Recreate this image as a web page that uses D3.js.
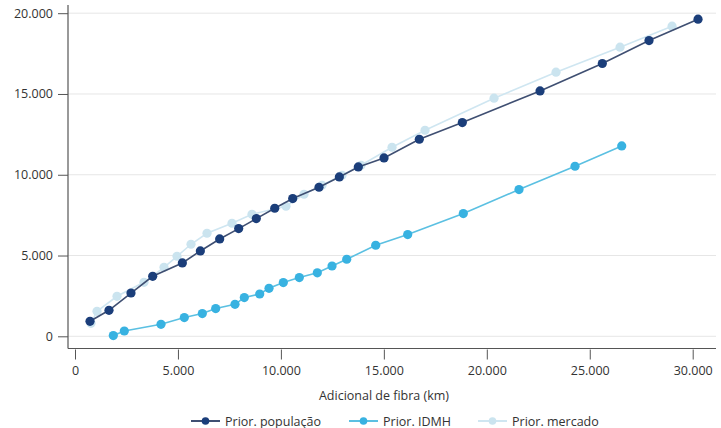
<!DOCTYPE html>
<html><head><meta charset="utf-8">
<script src="https://cdn.jsdelivr.net/npm/d3@7"></script>
<style>
html,body{margin:0;padding:0;background:#fff;}
svg text{font-family:"Open Sans",sans-serif;}
</style></head>
<body><svg id="chart" width="721" height="428"></svg>
<script>
const popX = [729,1651,2720,3773,5213,6088,7027,7950,8806,9700,10574,11851,12838,13760,15008,16723,18811,22585,25611,27879,30259];
const popY = [929,1610,2680,3715,4540,5283,6025,6668,7287,7926,8527,9226,9864,10484,11040,12198,13232,15190,16886,18306,19629];
const idmhX = [1860,2395,4177,5309,6183,6834,7771,8223,8971,9423,10117,10894,11769,12483,13197,14605,16159,18860,21565,24285,26553];
const idmhY = [43,328,743,1158,1406,1715,1981,2396,2619,2972,3325,3635,3932,4353,4768,5635,6297,7598,9084,10526,11783];
const mercX = [777,1069,2040,3351,4323,4954,5634,6411,7625,8597,10248,11122,11996,12968,13891,15397,17000,20351,23362,26471,28997];
const mercY = [805,1548,2477,3344,4272,4954,5697,6378,6997,7554,8050,8793,9350,9969,10588,11703,12756,14737,16347,17895,19195];
const xTicks = [0,5000,10000,15000,20000,25000,30000];
const yTicks = [0,5000,10000,15000,20000];
const seriesNames = ["Prior. população","Prior. IDMH","Prior. mercado"];
const xTitle = "Adicional de fibra (km)";

const fmt = v => d3.format(",")(v).replace(/,/g,".");
const svg = d3.select("#chart");
const x = d3.scaleLinear().domain([0,30000]).range([75,692.7]);
const y = d3.scaleLinear().domain([0,20000]).range([336.3,13.2]);
const left = 68, right = 716, bottom = 348.5;

// gridlines
svg.append("g").selectAll("line").data(yTicks).join("line")
  .attr("x1",left).attr("x2",right).attr("y1",d=>y(d)).attr("y2",d=>y(d))
  .attr("stroke","#e6e6e6").attr("stroke-width",1);

// y axis
const ya = svg.append("g").attr("transform",`translate(${left},0)`)
  .call(d3.axisLeft(y).tickValues(yTicks).tickFormat(fmt).tickSize(10).tickPadding(5));
ya.select(".domain").remove();
ya.selectAll(".tick line").attr("stroke","#555");
ya.selectAll(".tick text").attr("fill","#333").style("font-size","12.5px");
svg.append("line").attr("x1",left).attr("x2",left).attr("y1",5).attr("y2",bottom)
  .attr("stroke","#555").attr("stroke-width",1.2);

// x axis
const xa = svg.append("g").attr("transform",`translate(0,${bottom+1})`)
  .call(d3.axisBottom(x).tickValues(xTicks).tickFormat(fmt).tickSize(10).tickPadding(7));
xa.select(".domain").remove();
xa.selectAll(".tick line").attr("stroke","#555");
xa.selectAll(".tick text").attr("fill","#333").style("font-size","12.5px");
svg.append("line").attr("x1",left).attr("x2",right).attr("y1",bottom).attr("y2",bottom)
  .attr("stroke","#555").attr("stroke-width",1.2);

svg.append("text").attr("x",384).attr("y",400).attr("text-anchor","middle")
  .attr("fill","#333").style("font-size","12.5px").text(xTitle);

const series = [
  {name:seriesNames[2], xs:mercX, ys:mercY, line:"#cfe6f1", dot:"#cbe4ef"},
  {name:seriesNames[1], xs:idmhX, ys:idmhY, line:"#5bc0e2", dot:"#38b2e1"},
  {name:seriesNames[0], xs:popX, ys:popY, line:"#3f4f72", dot:"#1b3e7a"}
];
const lineGen = d3.line().x(d=>x(d[0])).y(d=>y(d[1]));
series.forEach(s=>{
  const pts = s.xs.map((v,i)=>[v,s.ys[i]]);
  svg.append("path").datum(pts).attr("d",lineGen).attr("fill","none")
    .attr("stroke",s.line).attr("stroke-width",1.6);
  svg.append("g").selectAll("circle").data(pts).join("circle")
    .attr("cx",d=>x(d[0])).attr("cy",d=>y(d[1])).attr("r",4.6).attr("fill",s.dot);
});

// legend
const legendItems = [
  {name:seriesNames[0], line:"#3f4f72", dot:"#1b3e7a", x0:191},
  {name:seriesNames[1], line:"#5bc0e2", dot:"#38b2e1", x0:349},
  {name:seriesNames[2], line:"#cfe6f1", dot:"#cbe4ef", x0:478}
];
const ly = 421;
legendItems.forEach(it=>{
  const g = svg.append("g");
  g.append("line").attr("x1",it.x0).attr("x2",it.x0+29).attr("y1",ly).attr("y2",ly)
    .attr("stroke",it.line).attr("stroke-width",2);
  g.append("circle").attr("cx",it.x0+14.5).attr("cy",ly).attr("r",3.8).attr("fill",it.dot);
  g.append("text").attr("x",it.x0+34).attr("y",ly+4.5).attr("fill","#333")
    .style("font-size","12.5px").text(it.name);
});
</script></body></html>
